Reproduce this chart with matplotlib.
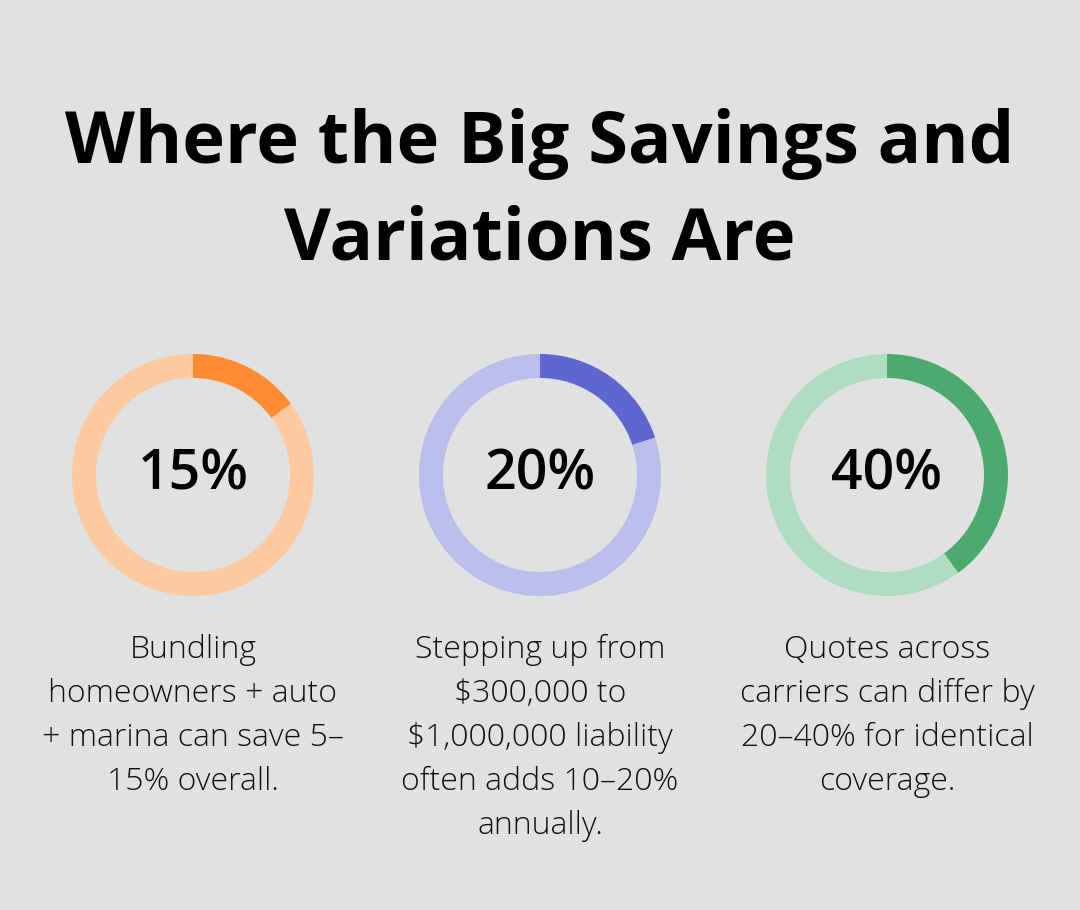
import matplotlib.pyplot as plt

# data
title = "Where the Big Savings and\nVariations Are"
percents = [15, 20, 40]
labels = ["15%", "20%", "40%"]
captions = [
    "Bundling\nhomeowners + auto\n+ marina can save 5\u2013\n15% overall.",
    "Stepping up from\n$300,000 to\n$1,000,000 liability\noften adds 10\u201320%\nannually.",
    "Quotes across\ncarriers can differ by\n20\u201340% for identical\ncoverage.",
]
dark_colors = ["#FF8C33", "#6066CF", "#4DAA6E"]
light_colors = ["#FFC9A0", "#BBBEEA", "#AFDCC0"]

bg = "#E0E2E1"
plt.rcParams['font.family'] = ['Open Sans', 'DejaVu Sans']

fig = plt.figure(figsize=(10.8, 9.1), dpi=100, facecolor=bg)
ax = fig.add_axes([0, 0, 1, 1])
ax.set_facecolor(bg)

ax.text(540, 910 - 192, title, ha='center', va='center', fontsize=52,
        fontweight='bold', linespacing=1.44, color='black')

centers_x = [193, 540, 887]
cy = 910 - 475
for i in range(3):
    ax.pie([percents[i], 100 - percents[i]], colors=[dark_colors[i], light_colors[i]],
           startangle=90, counterclock=False, radius=121, center=(centers_x[i], cy),
           wedgeprops=dict(width=24, linewidth=0), frame=True)
    ax.text(centers_x[i], cy, labels[i], ha='center', va='center', fontsize=40,
            fontweight='semibold', color='black')
    ax.text(centers_x[i], 910 - 634, captions[i], ha='center', va='top', fontsize=23,
            fontweight='light', linespacing=1.5, color='#111111')

ax.set_xlim(0, 1080)
ax.set_ylim(0, 910)
ax.set_aspect('equal')
ax.axis('off')

fig.savefig("out.png", dpi=100, facecolor=bg)
